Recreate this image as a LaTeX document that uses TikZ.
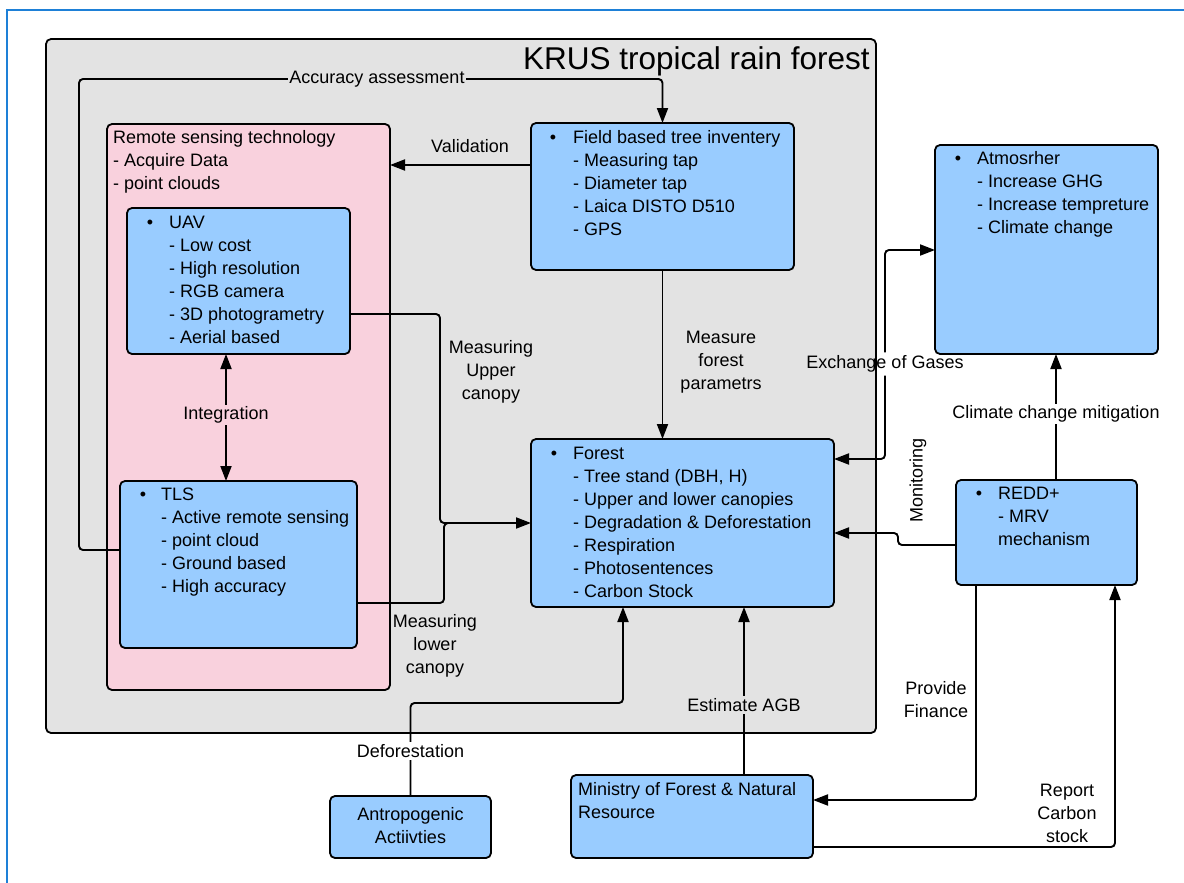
\documentclass[tikz,border=0pt]{standalone}
\usepackage{fontspec}
\setmainfont{Liberation Sans}
\usetikzlibrary{arrows.meta}
\definecolor{boxblue}{RGB}{153,204,255}
\definecolor{rspink}{RGB}{249,209,221}
\definecolor{krusgrey}{RGB}{227,227,227}
\definecolor{frameblue}{RGB}{30,128,215}
% multi-line blocks whose baseline is the first line
\newcommand{\ltab}[1]{\begin{tabular}[t]{@{}l@{}}#1\end{tabular}}
\newcommand{\ctab}[1]{\begin{tabular}[t]{@{}c@{}}#1\end{tabular}}

\begin{document}
\begin{tikzpicture}[x=1pt,y=-1pt,
  font=\fontsize{18}{23}\selectfont,
  panel/.style={draw, line width=1.8pt, rounded corners=5pt, anchor=north west, inner sep=0pt, outer sep=0pt},
  box/.style={panel, fill=boxblue},
  txt/.style={anchor=base west, inner sep=0pt},
  bul/.style={anchor=base, inner sep=0pt},
  lbl/.style={inner sep=2pt, align=center},
  conn/.style={line width=1.9pt, rounded corners=4pt},
  arr/.style={conn, -{Triangle[length=15pt,width=11pt]}},
  darr/.style={conn, {Triangle[length=15pt,width=11pt]}-{Triangle[length=15pt,width=11pt]}},
]
\useasboundingbox (0,0) rectangle (1184,883);
\fill[white] (0,0) rectangle (1184,883);
\draw[frameblue, line width=2.5pt] (7,883) -- (7,10) -- (1184,10);

% forest site container
\node[panel, fill=krusgrey, minimum width=830pt, minimum height=694pt] (krus) at (46,39) {};
\node[anchor=base east, inner sep=0pt, font=\fontsize{31.5}{36}\selectfont] (title) at (870,70) {KRUS tropical rain forest};

% remote sensing group
\node[panel, fill=rspink, minimum width=283pt, minimum height=566pt] (rst) at (107,124) {};
\node[txt] (rsttxt) at (113,143) {\ltab{Remote sensing technology\\- Acquire Data\\- point clouds}};

% UAV
\node[box, minimum width=223pt, minimum height=146pt] (uav) at (127,208) {};
\node[bul] (uavb) at (150,228) {\textbullet};
\node[txt] (uavtxt) at (169,228) {\ltab{UAV\\- Low cost\\- High resolution\\- RGB camera\\- 3D photogrametry\\- Aerial based}};

% TLS
\node[box, minimum width=237pt, minimum height=167pt] (tls) at (120,481) {};
\node[bul] (tlsb) at (143,500) {\textbullet};
\node[txt] (tlstxt) at (161,500) {\ltab{TLS\\- Active remote sensing\\- point cloud\\- Ground based\\- High accuracy}};

% field inventory
\node[box, minimum width=263pt, minimum height=147pt] (field) at (531,123) {};
\node[bul] (fieldb) at (553,143.5) {\textbullet};
\node[txt] (fieldtxt) at (573,143.5) {\ltab{Field based tree inventery\\- Measuring tap\\- Diameter tap\\- Laica DISTO D510\\- GPS}};

% forest
\node[box, minimum width=303pt, minimum height=168pt] (forest) at (531,439) {};
\node[bul] (forestb) at (554,459) {\textbullet};
\node[txt] (foresttxt) at (573,459) {\ltab{Forest\\- Tree stand (DBH, H)\\- Upper and lower canopies\\- Degradation \& Deforestation\\- Respiration\\- Photosentences\\- Carbon Stock}};

% atmosphere
\node[box, minimum width=223pt, minimum height=209pt] (atm) at (935,145) {};
\node[bul] (atmb) at (958,164.5) {\textbullet};
\node[txt] (atmtxt) at (977,164.5) {\ltab{Atmosrher\\- Increase GHG\\- Increase tempreture\\- Climate change}};

% REDD+
\node[box, minimum width=181pt, minimum height=105pt] (redd) at (956,480) {};
\node[bul] (reddb) at (979,499.5) {\textbullet};
\node[txt] (reddtxt) at (998,499.5) {\ltab{REDD+\\- MRV\\mechanism}};

% ministry
\node[box, minimum width=242pt, minimum height=83pt] (ministry) at (571,775) {};
\node[txt] (mintxt) at (578,795.5) {\ltab{Ministry of Forest \& Natural\\Resource}};

% anthropogenic activities
\node[box, minimum width=161pt, minimum height=62pt] (anthro) at (330,796) {};
\node[anchor=base, inner sep=0pt] (anthtxt) at (410.5,820) {\ctab{Antropogenic\\Actiivties}};

% label that splits the gas exchange connector
\node[lbl, inner sep=3pt] (gas) at (885,364) {Exchange of Gases};

% connectors
\draw[arr] (tls.west |- 0,550) -- (79,550) -- (79,79) -- (field.north |- 0,79) -- (field.north);
\draw[arr] (field.west |- 0,165) -- (rst.east |- 0,165);
\draw[arr] (field.south) -- (field.south |- forest.north);
\draw[arr] (uav.east |- 0,314) -- (440,314) -- (440,523) -- (forest.west);
\draw[conn] (tls.east |- 0,603) -- (444,603) -- (444,523) -- (470,523);
\draw[darr] (uav.south -| 226,0) -- (tls.north -| 226,0);
\draw[arr] (gas.north) -- (885,250) -- (atm.west |- 0,250);
\draw[arr] (gas.south) -- (885,459) -- (forest.east |- 0,459);
\draw[arr] (redd.west |- 0,545) -- (898,545) -- (898,533) -- (forest.east |- 0,533);
\draw[arr] (redd.north -| 1056,0) -- (atm.south -| 1056,0);
\draw[arr] (redd.south -| 976,0) -- (976,800) -- (ministry.east |- 0,800);
\draw[arr] (ministry.east |- 0,847) -- (1115,847) -- (redd.south -| 1115,0);
\draw[arr] (ministry.north -| 744,0) -- (forest.south -| 744,0);
\draw[arr] (anthro.north) -- (410.5,703) -- (623,703) -- (forest.south -| 623,0);

% connector labels
\node[lbl, inner sep=1pt, fill=krusgrey] (lacc) at (377,79) {Accuracy assessment};
\node[lbl] (lval) at (470,146) {Validation};
\node[lbl, fill=rspink] (lint) at (226,415) {Integration};
\node[lbl] (lmeas) at (721,362) {Measure\\forest\\parametrs};
\node[lbl] (lup) at (491,372) {Measuring\\Upper\\canopy};
\node[lbl] (llow) at (435,646) {Measuring\\lower\\canopy};
\node[lbl, rotate=90] (lmon) at (918,480) {Monitoring};
\node[lbl, fill=white] (lclim) at (1056,414) {Climate change mitigation};
\node[lbl] (lfin) at (936,700) {Provide\\Finance};
\node[lbl] (lrep) at (1067,813) {Report\\Carbon\\stock};
\node[lbl, fill=krusgrey] (lagb) at (744,705) {Estimate AGB};
\node[lbl, fill=white] (ldef) at (410.5,751) {Deforestation};
\end{tikzpicture}
\end{document}
